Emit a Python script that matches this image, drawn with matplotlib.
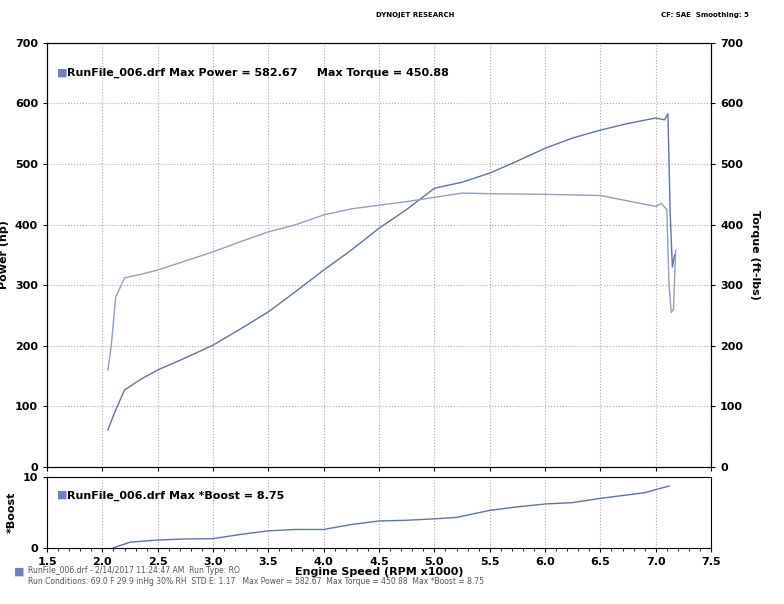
import matplotlib.pyplot as plt
import numpy as np

rpm_power = [2.05, 2.1, 2.2, 2.35, 2.5, 2.75, 3.0, 3.25, 3.5, 3.75, 4.0, 4.25, 4.5, 4.75, 5.0, 5.25, 5.5, 5.75, 6.0, 6.25, 6.5, 6.75, 7.0, 7.08, 7.11, 7.13, 7.15, 7.17]
power = [61, 85, 127, 145, 160, 180, 201, 228, 256, 290, 325, 358, 394, 425, 460, 470, 485, 505, 526, 543, 556, 567, 576, 573, 583, 420, 330, 350]
rpm_torque = [2.05, 2.08, 2.12, 2.2, 2.35, 2.5, 2.75, 3.0, 3.25, 3.5, 3.75, 4.0, 4.25, 4.5, 4.75, 5.0, 5.25, 5.5, 6.0, 6.5, 7.0, 7.05, 7.1, 7.12, 7.14, 7.16, 7.18]
torque = [160, 200, 280, 312, 318, 325, 340, 355, 372, 388, 400, 416, 426, 432, 438, 445, 452, 451, 450, 448, 430, 435, 425, 300, 255, 260, 358]
rpm_boost = [2.1, 2.25, 2.5, 2.75, 3.0, 3.25, 3.5, 3.75, 4.0, 4.25, 4.5, 4.75, 5.0, 5.2, 5.5, 5.75, 6.0, 6.25, 6.5, 6.75, 6.9, 7.12]
boost = [0, 0.8, 1.1, 1.25, 1.3, 1.9, 2.4, 2.6, 2.6, 3.3, 3.8, 3.9, 4.1, 4.3, 5.3, 5.8, 6.2, 6.4, 7.0, 7.5, 7.8, 8.75]

line_col = '#5f7499'
grid_col = '#aaaaaa'
fig = plt.figure(figsize=(7.84, 6.04), dpi=100)
ax = fig.add_axes([0.06, 0.227, 0.847, 0.702])
ax2 = fig.add_axes([0.06, 0.093, 0.847, 0.117])

ax.plot(rpm_power, power, color=line_col, lw=1)
ax.plot(rpm_torque, torque, color='#8fa0bd', lw=1)
ax.set_xlim(1.5, 7.5)
ax.set_ylim(0, 700)
ax.set_xticks(np.arange(1.5, 7.51, 0.5))
ax.set_xticklabels([])
ax.set_yticks(range(0, 701, 100))
ax.grid(True, linestyle=':', color=grid_col, lw=0.8)
ax.tick_params(labelsize=8, length=3)
for t in ax.get_yticklabels():
    t.set_fontweight('bold')
ax.set_ylabel('Power (hp)', fontsize=8, fontweight='bold')
axr = ax.twinx()
axr.set_ylim(0, 700)
axr.set_yticks(range(0, 701, 100))
axr.tick_params(labelsize=8, length=3)
for t in axr.get_yticklabels():
    t.set_fontweight('bold')
axr.set_ylabel('Torque (ft-lbs)', fontsize=8, fontweight='bold', rotation=270, labelpad=12)
ax.text(0.015, 0.93, '\u25A0', transform=ax.transAxes, color='#6f7fc0', fontsize=8, va='center')
ax.text(0.03, 0.93, 'RunFile_006.drf Max Power = 582.67     Max Torque = 450.88',
        transform=ax.transAxes, fontsize=8, fontweight='bold', va='center')

ax2.plot(rpm_boost, boost, color=line_col, lw=1)
ax2.set_xlim(1.5, 7.5)
ax2.set_ylim(0, 10)
ax2.set_yticks([0, 10])
ax2.set_xticks(np.arange(1.5, 7.51, 0.5))
ax2.set_xticks(np.arange(1.5, 7.51, 0.1), minor=True)
ax2.grid(True, axis='x', linestyle=':', color=grid_col, lw=0.8)
ax2.tick_params(labelsize=8, length=3)
for t in ax2.get_yticklabels() + ax2.get_xticklabels():
    t.set_fontweight('bold')
ax2.set_ylabel('*Boost', fontsize=8, fontweight='bold')
ax2.set_xlabel('Engine Speed (RPM x1000)', fontsize=8, fontweight='bold', labelpad=0)
ax2.text(0.015, 0.75, '\u25A0', transform=ax2.transAxes, color='#6f7fc0', fontsize=8, va='center')
ax2.text(0.03, 0.73, 'RunFile_006.drf Max *Boost = 8.75', transform=ax2.transAxes,
         fontsize=8, fontweight='bold', va='center')

fig.text(0.53, 0.972, 'DYNOJET RESEARCH', fontsize=5, fontweight='bold', ha='center')
fig.text(0.955, 0.972, 'CF: SAE  Smoothing: 5', fontsize=5, fontweight='bold', ha='right')
fig.text(0.018, 0.053, '\u25A0', color='#6f7fc0', fontsize=8, va='center')
fig.text(0.036, 0.056, 'RunFile_006.drf - 2/14/2017 11:24:47 AM  Run Type: RO',
         fontsize=5.5, color='#555555', va='center')
fig.text(0.036, 0.038, 'Run Conditions: 69.0 F 29.9 inHg 30% RH  STD E: 1.17   Max Power = 582.67  Max Torque = 450.88  Max *Boost = 8.75',
         fontsize=5.5, color='#555555', va='center')

fig.savefig('out.png', dpi=100)
